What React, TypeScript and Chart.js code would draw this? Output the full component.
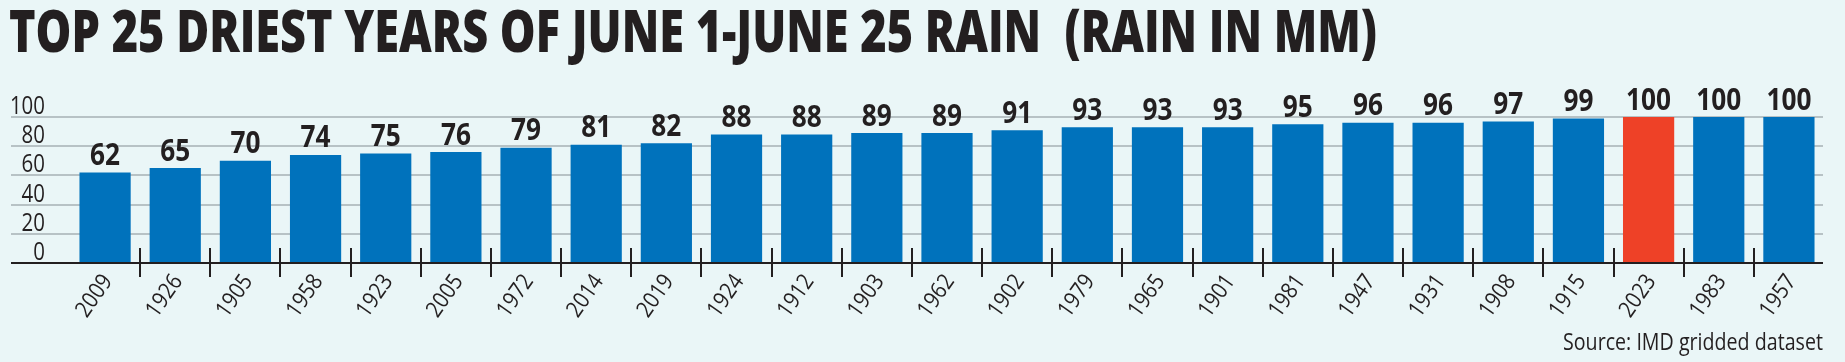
import React, { useEffect, useRef } from "react";
import { Chart, registerables } from "chart.js";

Chart.register(...registerables);

const years = ["2009","1926","1905","1958","1923","2005","1972","2014","2019","1924","1912","1903","1962","1902","1979","1965","1901","1981","1947","1931","1908","1915","2023","1983","1957"];
const rain = [62,65,70,74,75,76,79,81,82,88,88,89,89,91,93,93,93,95,96,96,97,99,100,100,100];
const highlightYear = "2023";
const yTicks = [0,20,40,60,80,100];
const titleText = "TOP 25 DRIEST YEARS OF JUNE 1-JUNE 25 RAIN  (RAIN IN MM)";
const sourceText = "Source: IMD gridded dataset";

const FONT = "'Open Sans', 'DejaVu Sans', sans-serif";
const BG = "#eaf6f7";
const BLUE = "#0072bc";
const RED = "#ee4127";
const INK = "#231f20";
const GRID = "#b7c2c5";

// draw text horizontally condensed (in its own direction) by factor sx
function drawText(
  ctx: CanvasRenderingContext2D,
  text: string,
  x: number,
  y: number,
  font: string,
  sx: number,
  align: CanvasTextAlign,
  angleDeg = 0
) {
  ctx.save();
  ctx.font = font;
  ctx.textAlign = align;
  ctx.textBaseline = "alphabetic";
  ctx.translate(x, y);
  if (angleDeg) ctx.rotate((angleDeg * Math.PI) / 180);
  ctx.scale(sx, 1);
  ctx.fillText(text, 0, 0);
  ctx.restore();
}

function fitScale(ctx: CanvasRenderingContext2D, text: string, font: string, target: number) {
  ctx.save();
  ctx.font = font;
  const w = ctx.measureText(text).width;
  ctx.restore();
  return w > 0 ? target / w : 1;
}

const decorPlugin = {
  id: "decor",
  beforeDatasetsDraw(chart: any) {
    const { ctx, chartArea, scales } = chart;
    const y = scales.y;
    ctx.save();
    ctx.fillStyle = BG;
    ctx.fillRect(0, 0, chart.width, chart.height);
    ctx.strokeStyle = GRID;
    ctx.lineWidth = 2;
    yTicks.forEach((v) => {
      if (v === 0) return;
      const py = Math.round(y.getPixelForValue(v));
      ctx.beginPath();
      ctx.moveTo(11, py);
      ctx.lineTo(chartArea.right - 1, py);
      ctx.stroke();
    });
    ctx.restore();

    // y labels
    ctx.save();
    ctx.fillStyle = INK;
    const yFont = `normal 25px ${FONT}`;
    const ySx = fitScale(ctx, "00", yFont, 23.4);
    yTicks.forEach((v) => {
      const py = y.getPixelForValue(v);
      drawText(ctx, String(v), 45, py - 3, yFont, ySx, "right");
    });
    ctx.restore();
  },
  afterDatasetsDraw(chart: any) {
    const { ctx, chartArea, scales } = chart;
    const x = scales.x;
    const y = scales.y;
    const y0 = Math.round(y.getPixelForValue(0));
    ctx.save();
    ctx.strokeStyle = INK;
    ctx.lineWidth = 2;
    ctx.beginPath();
    ctx.moveTo(11, y0);
    ctx.lineTo(chartArea.right - 1, y0);
    ctx.stroke();
    for (let i = 1; i < years.length; i++) {
      const px = Math.round((x.getPixelForValue(i - 1) + x.getPixelForValue(i)) / 2);
      ctx.beginPath();
      ctx.moveTo(px, y0 - 15);
      ctx.lineTo(px, y0 + 14);
      ctx.stroke();
    }
    ctx.fillStyle = INK;

    // value labels
    const vFont = `bold 30px ${FONT}`;
    const vSx = fitScale(ctx, "00", vFont, 30);
    const meta = chart.getDatasetMeta(0);
    meta.data.forEach((bar: any, i: number) => {
      drawText(ctx, String(rain[i]), bar.x, bar.y - 7.5, vFont, vSx, "center");
    });

    // x labels
    const xFont = `normal 23px ${FONT}`;
    const xSx = fitScale(ctx, "0000", xFont, 46);
    years.forEach((yr, i) => {
      const cx = x.getPixelForValue(i);
      drawText(ctx, yr, cx + 8, y0 + 18, xFont, xSx, "right", -55);
    });

    // title
    const tFont = `800 59px ${FONT}`;
    const tSx = fitScale(ctx, titleText, tFont, 1368);
    drawText(ctx, titleText, 9, 52, tFont, tSx, "left");

    // source
    const sFont = `normal 24px ${FONT}`;
    const sSx = fitScale(ctx, sourceText, sFont, 260);
    drawText(ctx, sourceText, chartArea.right - 1, 350, sFont, sSx, "right");
    ctx.restore();
  },
};

export default function App() {
  const ref = useRef<HTMLCanvasElement | null>(null);
  useEffect(() => {
    document.body.style.margin = "0";
    document.body.style.background = BG;
    const canvas = ref.current!;
    const chart = new Chart(canvas, {
      type: "bar",
      data: {
        labels: years,
        datasets: [
          {
            data: rain,
            backgroundColor: years.map((yr) => (yr === highlightYear ? RED : BLUE)),
            borderWidth: 0,
            barPercentage: 0.73,
            categoryPercentage: 1,
          },
        ],
      },
      plugins: [decorPlugin],
      options: {
        animation: false,
        responsive: false,
        devicePixelRatio: 1,
        layout: { padding: { left: 70, right: 21, top: 117, bottom: 99 } },
        plugins: {
          legend: { display: false },
          tooltip: { enabled: false },
          title: { display: false },
        },
        scales: {
          x: { display: false, offset: true },
          y: { display: false, min: 0, max: 100 },
        },
      },
    });
    return () => chart.destroy();
  }, []);
  return (
    <canvas ref={ref} width={1845} height={362} style={{ display: "block", width: 1845, height: 362 }} />
  );
}
